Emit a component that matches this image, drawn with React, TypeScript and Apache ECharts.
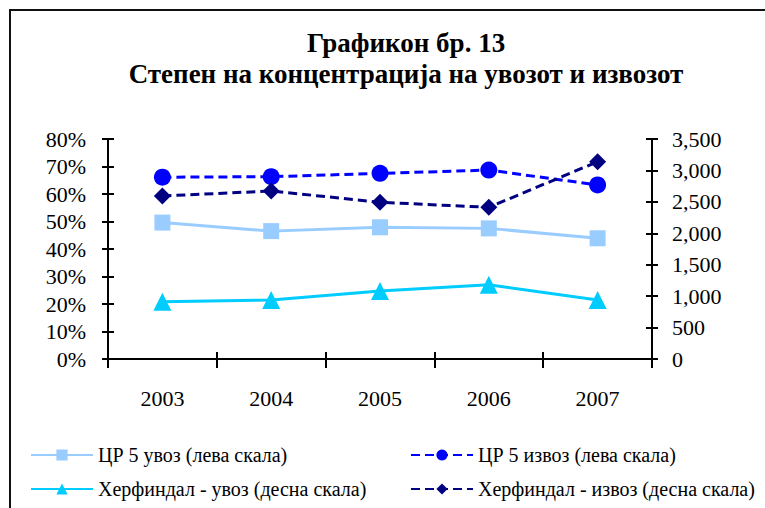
import React, { useEffect, useRef } from "react";
import * as echarts from "echarts";

const years = ["2003", "2004", "2005", "2006", "2007"];
const cr5Import = [49.6, 46.5, 47.9, 47.5, 43.9];
const cr5Export = [66.1, 66.3, 67.5, 68.7, 63.3];
const herfImport = [910, 940, 1080, 1180, 940];
const herfExport = [2593, 2673, 2493, 2413, 3139];

const titleLine1 = "Графикон бр. 13";
const titleLine2 = "Степен на концентрација на увозот и извозот";
const names = [
  "ЦР 5 увоз (лева скала)",
  "ЦР 5 извоз (лева скала)",
  "Херфиндал - увоз (десна скала)",
  "Херфиндал - извоз (десна скала)",
];

const FONT = "Liberation Serif";

export default function App() {
  const ref = useRef<HTMLDivElement>(null);
  useEffect(() => {
    if (!ref.current) return;
    const chart = echarts.init(ref.current, null, { renderer: "svg" });
    const axisLabel = { fontFamily: FONT, fontSize: 22, color: "#000" };
    const fmtThousands = (v: number) => v.toLocaleString("en-US");
    const legendCommon = {
      orient: "vertical",
      top: 445,
      padding: 0,
      height: 62,
      itemGap: 14,
      itemWidth: 62,
      itemHeight: 14,
      textStyle: { fontFamily: FONT, fontSize: 20, color: "#000" },
    };
    chart.setOption({
      animation: false,
      backgroundColor: "#fff",
      textStyle: { fontFamily: FONT },
      title: {
        text: titleLine1 + "\n" + titleLine2,
        left: 401,
        top: 22,
        textAlign: "center",
        textStyle: {
          fontFamily: FONT,
          fontWeight: "bold",
          fontSize: 27,
          lineHeight: 31,
          color: "#000",
        },
      },
      graphic: [
        {
          type: "rect",
          shape: { x: 10, y: 10, width: 800, height: 600 },
          style: { fill: "none", stroke: "#111", lineWidth: 2 },
          silent: true,
        },
      ],
      legend: [
        { ...legendCommon, left: 30, data: [names[0], names[2]] },
        { ...legendCommon, left: 410, data: [names[1], names[3]] },
      ],
      grid: { left: 108, right: 113, top: 139, bottom: 149 },
      xAxis: [
        {
          type: "category",
          data: years,
          boundaryGap: true,
          axisLine: { lineStyle: { color: "#000", width: 2 } },
          axisTick: { show: true, length: 9, lineStyle: { color: "#000", width: 2 } },
          axisLabel: { ...axisLabel, margin: 28 },
          splitLine: { show: false },
        },
        {
          type: "category",
          data: years,
          position: "bottom",
          boundaryGap: true,
          axisLine: { show: false },
          axisTick: { show: true, inside: true, length: 7, lineStyle: { color: "#000", width: 2 } },
          axisLabel: { show: false },
          splitLine: { show: false },
        },
      ],
      yAxis: [
        {
          type: "value",
          position: "left",
          min: 0,
          max: 80,
          interval: 10,
          axisLine: { show: true, lineStyle: { color: "#000", width: 2 } },
          axisTick: { show: true, length: 6, lineStyle: { color: "#000", width: 2 } },
          axisLabel: { ...axisLabel, margin: 22, formatter: "{value}%" },
          splitLine: { show: false },
        },
        {
          type: "value",
          position: "right",
          min: 0,
          max: 3500,
          interval: 500,
          axisLine: { show: true, lineStyle: { color: "#000", width: 2 } },
          axisTick: { show: true, length: 6, lineStyle: { color: "#000", width: 2 } },
          axisLabel: { ...axisLabel, margin: 20, formatter: fmtThousands },
          splitLine: { show: false },
        },
        {
          type: "value",
          position: "left",
          min: 0,
          max: 80,
          interval: 10,
          axisLine: { show: false },
          axisTick: { show: true, inside: true, length: 6, lineStyle: { color: "#000", width: 2 } },
          axisLabel: { show: false },
          splitLine: { show: false },
        },
        {
          type: "value",
          position: "right",
          min: 0,
          max: 3500,
          interval: 500,
          axisLine: { show: false },
          axisTick: { show: true, inside: true, length: 6, lineStyle: { color: "#000", width: 2 } },
          axisLabel: { show: false },
          splitLine: { show: false },
        },
      ],
      series: [
        {
          name: names[0],
          type: "line",
          yAxisIndex: 0,
          data: cr5Import,
          symbol: "rect",
          symbolSize: 16,
          color: "#99CCFF",
          lineStyle: { color: "#99CCFF", width: 3 },
          itemStyle: { color: "#99CCFF" },
        },
        {
          name: names[1],
          type: "line",
          yAxisIndex: 0,
          data: cr5Export,
          symbol: "circle",
          symbolSize: 17,
          color: "#0000FF",
          lineStyle: { color: "#0000FF", width: 3, type: [9, 5] },
          itemStyle: { color: "#0000FF" },
        },
        {
          name: names[2],
          type: "line",
          yAxisIndex: 1,
          data: herfImport,
          symbol: "triangle",
          symbolSize: 18,
          color: "#00CCFF",
          lineStyle: { color: "#00CCFF", width: 3 },
          itemStyle: { color: "#00CCFF" },
        },
        {
          name: names[3],
          type: "line",
          yAxisIndex: 1,
          data: herfExport,
          symbol: "diamond",
          symbolSize: 17,
          color: "#000080",
          lineStyle: { color: "#000080", width: 3, type: [9, 5] },
          itemStyle: { color: "#000080" },
        },
      ],
    });
    return () => chart.dispose();
  }, []);
  return (
    <div
      ref={ref}
      style={{ position: "fixed", left: 0, top: 0, width: 765, height: 508 }}
    />
  );
}
